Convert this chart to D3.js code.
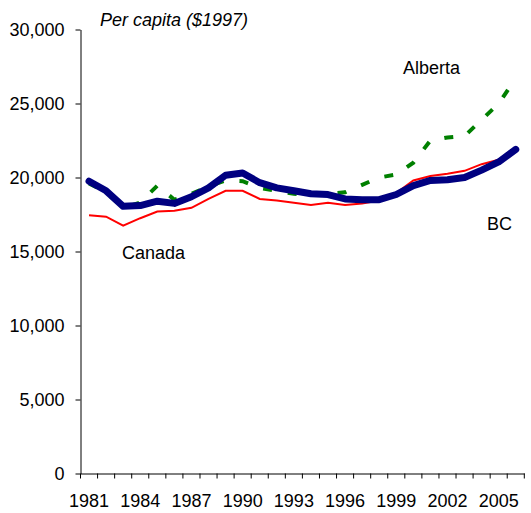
<!DOCTYPE html>
<html lang="en">
<head>
<meta charset="utf-8">
<style>
	body { margin: 0; background: #fff; }
	svg { display: block; font-family: "Liberation Sans", Arial, sans-serif; }
</style>
</head>
<body>
<div id="chart"></div>
<script src="https://cdn.jsdelivr.net/npm/d3@7"></script>
<script>
	const years = d3.range(1981, 2007);
	const labelYears = [1981, 1984, 1987, 1990, 1993, 1996, 1999, 2002, 2005];
	const yTicks = [0, 5000, 10000, 15000, 20000, 25000, 30000];

	const alberta = [19600, 19000, 17950, 18300, 19450, 18500, 18900, 19400, 19800, 19750,
		19300, 19100, 18900, 18800, 18900, 19000, 19500, 20000, 20200, 21000,
		22500, 22700, 22800, 23900, 25000, 26700];
	const canada = [17450, 17350, 16750, 17250, 17700, 17750, 17950, 18550, 19100, 19100,
		18550, 18450, 18300, 18150, 18300, 18150, 18250, 18450, 18950, 19800,
		20100, 20250, 20450, 20900, 21200, 21900];
	const bc = [19750, 19100, 18050, 18100, 18400, 18250, 18700, 19300, 20150, 20300,
		19650, 19300, 19100, 18900, 18850, 18550, 18500, 18500, 18850, 19450,
		19800, 19850, 20000, 20500, 21050, 21900];

	const width = 531, height = 513;

	const svg = d3.select("#chart")
		.append("svg")
		.attr("width", width)
		.attr("height", height);

	const x = d3.scaleBand()
		.domain(years)
		.range([80.5, 524.3])
		.padding(0);

	const y = d3.scaleLinear()
		.domain([0, 30000])
		.range([473.5, 29.5]);

	const cx = d => x(d) + x.bandwidth() / 2;

	// y axis
	const yAxis = svg.append("g")
		.attr("transform", "translate(80.5,0)")
		.call(d3.axisLeft(y)
			.tickValues(yTicks)
			.tickFormat(d3.format(","))
			.tickSize(5)
			.tickSizeOuter(0)
			.tickPadding(11));
	yAxis.select(".domain").attr("stroke", "#000");
	yAxis.selectAll(".tick line").attr("stroke", "#000");
	yAxis.selectAll("text")
		.attr("font-size", 18)
		.attr("font-family", "'Liberation Sans', Arial, sans-serif")
		.attr("fill", "#000");

	// x axis: labels under every third year, ticks between categories
	const xAxis = svg.append("g")
		.attr("transform", "translate(0,473.5)")
		.call(d3.axisBottom(x)
			.tickValues(labelYears)
			.tickSize(0)
			.tickSizeOuter(0));
	xAxis.select(".domain").attr("stroke", "#000");
	xAxis.selectAll("text")
		.attr("font-size", 18)
		.attr("font-family", "'Liberation Sans', Arial, sans-serif")
		.attr("fill", "#000")
		.attr("y", 33)
		.attr("dy", 0);

	svg.append("g")
		.selectAll("line")
		.data(years.concat([null]))
		.enter()
		.append("line")
		.attr("x1", d => d === null ? x.range()[1] : x(d))
		.attr("x2", d => d === null ? x.range()[1] : x(d))
		.attr("y1", 473.5)
		.attr("y2", 478.5)
		.attr("stroke", "#000");

	const line = d3.line()
		.x((d, i) => cx(years[i]))
		.y(d => y(d));

	// Canada
	svg.append("path")
		.datum(canada)
		.attr("d", line)
		.attr("fill", "none")
		.attr("stroke", "#ff0000")
		.attr("stroke-width", 2);

	// Alberta
	svg.append("path")
		.datum(alberta)
		.attr("d", line)
		.attr("fill", "none")
		.attr("stroke", "#008000")
		.attr("stroke-width", 4)
		.attr("stroke-dasharray", "9,16");

	// BC
	svg.append("path")
		.datum(bc)
		.attr("d", line)
		.attr("fill", "none")
		.attr("stroke", "#000080")
		.attr("stroke-width", 7)
		.attr("stroke-linejoin", "round")
		.attr("stroke-linecap", "round");

	// annotations
	svg.append("text")
		.attr("x", 100)
		.attr("y", 25.5)
		.attr("font-size", 18)
		.attr("font-style", "italic")
		.text("Per capita ($1997)");

	svg.append("text")
		.attr("x", 403)
		.attr("y", 74)
		.attr("font-size", 18)
		.text("Alberta");

	svg.append("text")
		.attr("x", 487)
		.attr("y", 230)
		.attr("font-size", 18)
		.text("BC");

	svg.append("text")
		.attr("x", 122)
		.attr("y", 259)
		.attr("font-size", 18)
		.text("Canada");
</script>
</body>
</html>
